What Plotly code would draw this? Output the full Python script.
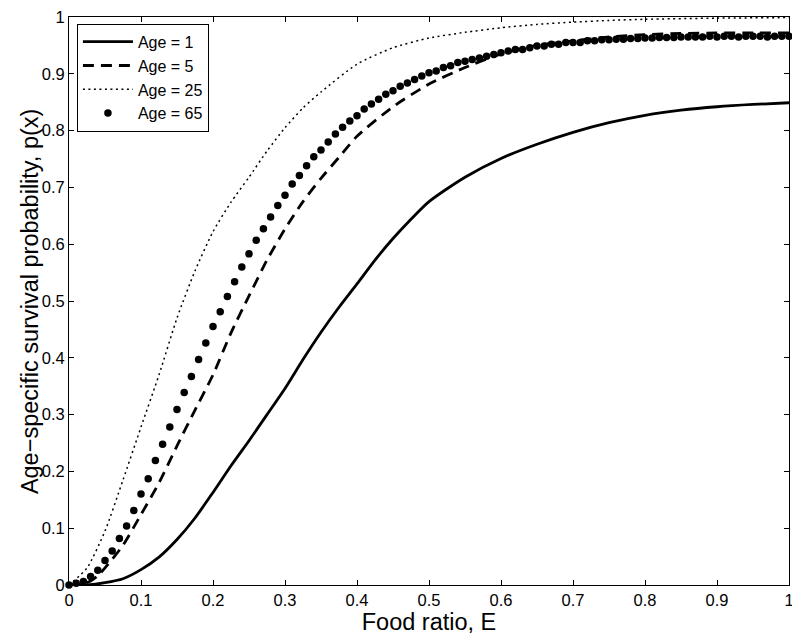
import plotly.graph_objects as go

# Age = 1 (solid)
x_age1 = [0, 0.025, 0.05, 0.075, 0.1, 0.125, 0.15, 0.175, 0.2, 0.225, 0.25, 0.275, 0.3,
          0.325, 0.35, 0.375, 0.4, 0.425, 0.45, 0.475, 0.5, 0.55, 0.6, 0.65, 0.7, 0.75,
          0.8, 0.85, 0.9, 0.95, 1.0]
y_age1 = [0, 0, 0.004, 0.011, 0.027, 0.049, 0.08, 0.118, 0.163, 0.21, 0.254, 0.3, 0.346,
          0.397, 0.445, 0.489, 0.53, 0.572, 0.61, 0.644, 0.675, 0.718, 0.751, 0.776, 0.797,
          0.814, 0.827, 0.836, 0.842, 0.846, 0.849]

# Age = 5 (dashed)
x_age5 = [0, 0.02, 0.03, 0.04, 0.05, 0.075, 0.1, 0.125, 0.15, 0.175, 0.2, 0.225, 0.25,
          0.275, 0.3, 0.325, 0.35, 0.375, 0.4, 0.45, 0.5, 0.55, 0.6, 0.65, 0.7, 0.75, 0.8,
          0.85, 0.9, 0.95, 1.0]
y_age5 = [0, 0.002, 0.007, 0.016, 0.03, 0.07, 0.124, 0.18, 0.245, 0.308, 0.37, 0.444,
          0.509, 0.572, 0.627, 0.675, 0.716, 0.753, 0.79, 0.842, 0.882, 0.911, 0.935, 0.95,
          0.958, 0.965, 0.969, 0.971, 0.972, 0.972, 0.972]

# Age = 25 (dotted)
x_age25 = [0, 0.025, 0.05, 0.075, 0.1, 0.125, 0.15, 0.175, 0.2, 0.225, 0.25, 0.275, 0.3,
           0.325, 0.35, 0.4, 0.45, 0.5, 0.55, 0.6, 0.65, 0.7, 0.75, 0.8, 0.9, 1.0]
y_age25 = [0, 0.03, 0.095, 0.185, 0.278, 0.37, 0.47, 0.553, 0.622, 0.674, 0.718, 0.764,
           0.805, 0.84, 0.868, 0.917, 0.946, 0.963, 0.973, 0.981, 0.987, 0.991, 0.994,
           0.996, 0.998, 0.999]

# Age = 65 (markers, every 0.01)
x_age65 = [i / 100 for i in range(101)]
y_age65 = [0, 0.003, 0.006, 0.015, 0.026, 0.043, 0.060, 0.082, 0.104, 0.131,
           0.160, 0.187, 0.219, 0.248, 0.278, 0.309, 0.339, 0.367, 0.397, 0.426,
           0.455, 0.481, 0.508, 0.534, 0.560, 0.583, 0.607, 0.627, 0.648, 0.668,
           0.686, 0.706, 0.721, 0.738, 0.754, 0.766, 0.780, 0.794, 0.806, 0.817,
           0.826, 0.838, 0.847, 0.855, 0.864, 0.870, 0.878, 0.884, 0.890, 0.896,
           0.902, 0.905, 0.911, 0.914, 0.920, 0.922, 0.925, 0.928, 0.931, 0.934,
           0.937, 0.940, 0.943, 0.943, 0.946, 0.949, 0.949, 0.952, 0.952, 0.955,
           0.955, 0.955, 0.958, 0.958, 0.960, 0.960, 0.961, 0.961, 0.962, 0.962,
           0.963, 0.963, 0.964, 0.964, 0.964, 0.965, 0.965, 0.965, 0.965, 0.966,
           0.965, 0.966, 0.966, 0.965, 0.966, 0.966, 0.966, 0.965, 0.966, 0.966,
           0.966]

tick_vals = [0, 0.1, 0.2, 0.3, 0.4, 0.5, 0.6, 0.7, 0.8, 0.9, 1]
tick_text = ["0", "0.1", "0.2", "0.3", "0.4", "0.5", "0.6", "0.7", "0.8", "0.9", "1"]

FONT = "Liberation Sans, Arial, Helvetica, sans-serif"

fig = go.Figure()
fig.add_trace(go.Scatter(
    x=x_age1, y=y_age1, mode="lines", name="Age = 1",
    line=dict(color="black", width=2.8, shape="spline", smoothing=0.7),
))
fig.add_trace(go.Scatter(
    x=x_age5, y=y_age5, mode="lines", name="Age = 5",
    line=dict(color="black", width=2.8, dash="11px,7px", shape="spline", smoothing=0.6),
))
fig.add_trace(go.Scatter(
    x=x_age25, y=y_age25, mode="lines", name="Age = 25",
    line=dict(color="black", width=1.5, dash="2px,3.5px", shape="spline", smoothing=0.6),
))
fig.add_trace(go.Scatter(
    x=x_age65, y=y_age65, mode="markers", name="Age = 65",
    marker=dict(color="black", size=7.5),
    cliponaxis=False,
))

axis_common = dict(
    range=[0, 1],
    tickvals=tick_vals,
    ticktext=tick_text,
    ticks="inside",
    ticklen=5,
    tickwidth=1,
    tickcolor="black",
    showline=True,
    linecolor="black",
    linewidth=1,
    mirror="ticks",
    showgrid=False,
    zeroline=False,
    automargin=False,
    ticklabeloverflow="allow",
    tickfont=dict(family=FONT, size=16.5, color="black"),
)

# page body has an 8px margin, so the figure is sized/offset to compensate
fig.update_layout(
    width=792,
    height=635,
    margin=dict(l=61, r=11, t=9, b=58),
    plot_bgcolor="white",
    paper_bgcolor="white",
    font=dict(family=FONT, color="black"),
    xaxis=dict(
        **axis_common,
        title=dict(text="Food ratio, E", font=dict(family=FONT, size=23.5), standoff=4),
    ),
    yaxis=dict(**axis_common),
    annotations=[dict(
        text="Age\u2212specific survival probability, p(x)",
        xref="paper", yref="paper", x=-0.054, y=0.5,
        xanchor="center", yanchor="middle", textangle=-90,
        showarrow=False, font=dict(family=FONT, size=23.5, color="black"),
    )],
    showlegend=True,
    legend=dict(
        x=0.011, y=0.988, xanchor="left", yanchor="top",
        bgcolor="white", bordercolor="black", borderwidth=1,
        font=dict(family=FONT, size=16, color="black"),
        itemwidth=50,
        tracegroupgap=0,
    ),
)

fig.write_html("out.html")
